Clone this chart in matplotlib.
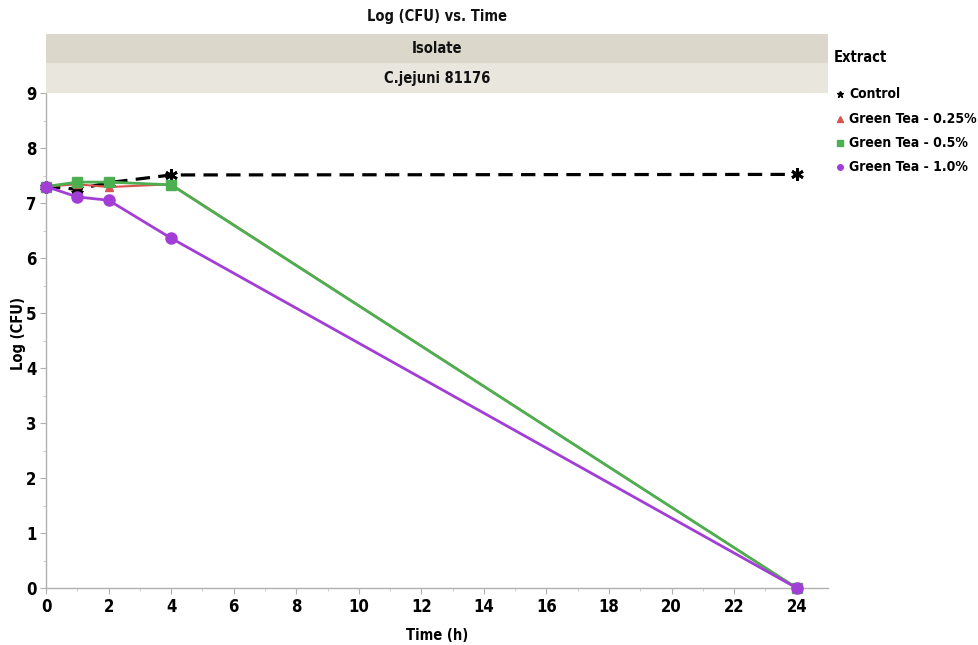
import matplotlib
matplotlib.use("Agg")
import matplotlib.pyplot as plt
from matplotlib.patches import Rectangle
from matplotlib.lines import Line2D

plt.rcParams['font.family'] = ['DejaVu Sans']
plt.rcParams['font.stretch'] = 'condensed'
plt.rcParams['font.weight'] = 'bold'

time_h = [0, 1, 2, 4, 24]
series_names = ["Control", "Green Tea - 0.25%", "Green Tea - 0.5%", "Green Tea - 1.0%"]
control = [7.30, 7.25, 7.37, 7.51, 7.52]
gt_025 = [7.30, 7.34, 7.29, 7.34, 0.0]
gt_05 = [7.30, 7.38, 7.38, 7.33, 0.0]
gt_10 = [7.30, 7.11, 7.05, 6.36, 0.0]
x_ticks = list(range(0, 25, 2))
y_ticks = list(range(0, 10))

W, H = 979, 645
fig = plt.figure(figsize=(W / 100, H / 100), dpi=100)
ax_l, ax_r, ax_t, ax_b = 46, 828, 93, 588
ax = fig.add_axes([ax_l / W, 1 - ax_b / H, (ax_r - ax_l) / W, (ax_b - ax_t) / H])

styles = [
    dict(color="black", ls=(0, (4.5, 2.6)), lw=2.3, marker=(6, 2, 0), ms=9, mew=2),
    dict(color="#d9534f", ls="-", lw=1.5, marker="^", ms=6),
    dict(color="#4caf50", ls="-", lw=2.0, marker="s", ms=7),
    dict(color="#a23ed6", ls="-", lw=2.0, marker="o", ms=8),
]
data = [control, gt_025, gt_05, gt_10]
zorders = [2, 3, 4, 5]
for i in range(4):
    st = styles[i]
    ax.plot(time_h, data[i], color=st["color"], linestyle=st["ls"], linewidth=st["lw"],
            marker=st["marker"], markersize=st["ms"], markeredgewidth=st.get("mew", 1),
            markeredgecolor=st["color"], zorder=zorders[i], clip_on=False)

ax.set_xlim(0, 25)
ax.set_ylim(0, 9)
ax.set_xticks(x_ticks)
ax.set_yticks(y_ticks)
ax.set_xticks(range(0, 25), minor=True)
ax.set_yticks([v + 0.5 for v in range(0, 9)], minor=True)
for s in ["top", "right"]:
    ax.spines[s].set_visible(False)
for s in ["left", "bottom"]:
    ax.spines[s].set_color("#b0b0b0")
    ax.spines[s].set_linewidth(1.0)
ax.tick_params(axis="both", which="major", direction="out", length=4, color="#b0b0b0",
               labelsize=12, pad=3)
ax.tick_params(axis="both", which="minor", direction="out", length=2, color="#c8c8c8")
for lbl in ax.get_xticklabels() + ax.get_yticklabels():
    lbl.set_fontweight("bold")
ax.set_xlabel("Time (h)", fontsize=10.5, fontweight="bold")
ax.xaxis.set_label_coords((437 - ax_l) / (ax_r - ax_l), -(635 - ax_b) / (ax_b - ax_t))
ax.set_ylabel("Log (CFU)", fontsize=10.5, fontweight="bold")
ax.yaxis.set_label_coords((18 - ax_l) / (ax_r - ax_l), (ax_b - 333) / (ax_b - ax_t))
ax.xaxis.label.set_va("center")
ax.yaxis.label.set_va("center")

def band(y0, y1, color, text):
    fig.patches.append(Rectangle((ax_l / W, 1 - y1 / H), (ax_r - ax_l) / W, (y1 - y0) / H,
                                 transform=fig.transFigure, facecolor=color, edgecolor="none"))
    fig.text((ax_l + ax_r) / 2 / W, 1 - (y0 + y1) / 2 / H, text, ha="center", va="center",
             fontsize=10.5, fontweight="bold", color="#111111")

band(34, 63, "#dbd8cb", "Isolate")
band(63, 93, "#e8e6dd", "C.jejuni 81176")
fig.text((ax_l + ax_r) / 2 / W, 1 - 17 / H, "Log (CFU) vs. Time", ha="center", va="center",
         fontsize=10.5, fontweight="bold", color="#111111")

fig.text(834 / W, 1 - 58 / H, "Extract", ha="left", va="center", fontsize=10.5, fontweight="bold")
leg_y = [94, 119, 143, 167]
leg_markers = ["*", "^", "s", "o"]
leg_sizes = [5, 4, 4, 4]
for i, name in enumerate(series_names):
    fig.add_artist(Line2D([840 / W], [1 - leg_y[i] / H], transform=fig.transFigure,
                          marker=leg_markers[i], color=styles[i]["color"], ms=leg_sizes[i], ls="none"))
    fig.text(849 / W, 1 - leg_y[i] / H, name, ha="left", va="center", fontsize=10, fontweight="bold")

fig.savefig("out.png", dpi=100)
